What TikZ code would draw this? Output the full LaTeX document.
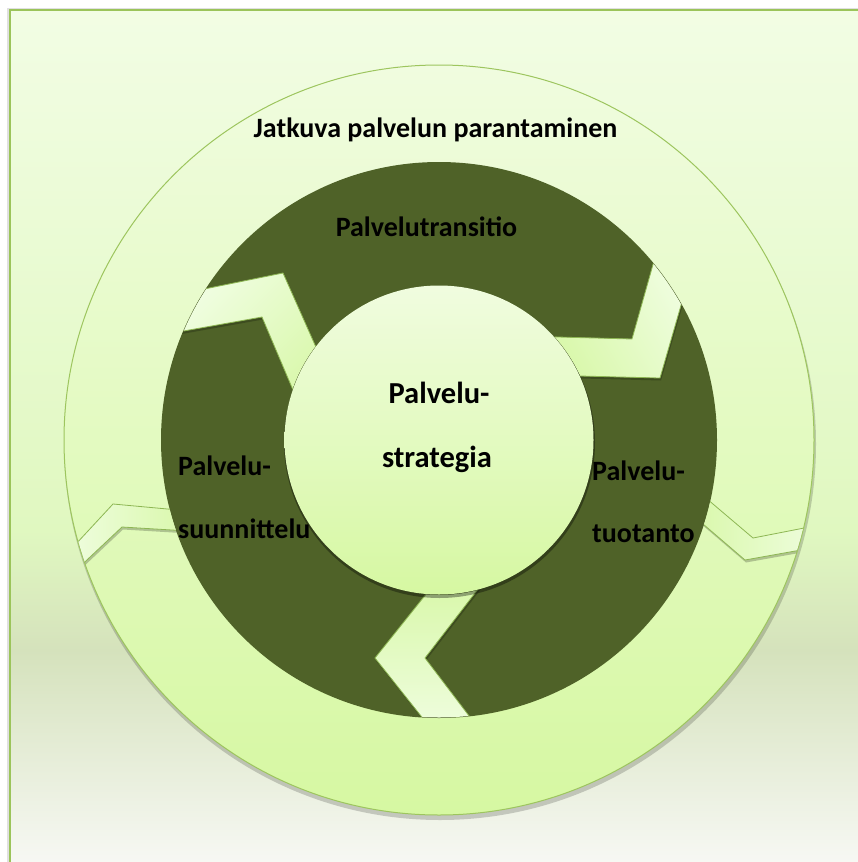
\documentclass[tikz,border=0pt]{standalone}
\usepackage{fontspec}
\usetikzlibrary{calc}
\setmainfont{Carlito}
\definecolor{bgtop}{HTML}{F2FDE4}
\definecolor{bgmid}{HTML}{E0F8C0}
\definecolor{bglow}{HTML}{D5E2BC}
\definecolor{bgbot}{HTML}{F7F8F4}
\definecolor{frame}{HTML}{9BC45A}
\definecolor{ringout}{HTML}{9DC55E}
\definecolor{lighttop}{HTML}{F0FCDF}
\definecolor{lightbot}{HTML}{D6F8A2}
\definecolor{darkring}{HTML}{4F6228}
\definecolor{chevlight}{HTML}{F2FEE6}
\definecolor{chevsat}{HTML}{D6F7A4}
\definecolor{chevedge}{HTML}{8DB653}
\tikzset{
  lbl/.style={font=\bfseries\fontsize{28}{34}\selectfont, text=black, inner sep=0pt},
  biglbl/.style={font=\bfseries\fontsize{30.5}{36}\selectfont, text=black, inner sep=0pt},
  chev/.style={draw=chevedge, line width=0.8pt, line join=miter},
  chevshadow/.style={fill=black, opacity=0.22},
}
\begin{document}
\begin{tikzpicture}[x=1pt,y=-1pt]
\useasboundingbox (0,0) rectangle (858,862);
% background panel
\begin{scope}
\clip (0,0) rectangle (858,862);
\fill[white] (0,0) rectangle (858,862);
\fill[black!12] (7,8) rectangle (858,862);
\shade[top color=bgtop, bottom color=bgmid] (10,10) rectangle (860,531);
\shade[top color=bgmid, bottom color=bglow] (10,530) rectangle (860,651);
\shade[top color=bglow, bottom color=bgbot] (10,650) rectangle (860,864);
\draw[frame, line width=1.6pt] (10,864) -- (10,10) -- (860,10);
\end{scope}
\coordinate (c) at (439,440);
% outer circle with shadow
\fill[black, opacity=0.18] ($(c)+(1,4)$) circle[radius=376pt];
\shade[top color=lighttop, bottom color=lightbot, draw=ringout, line width=1pt]
  (c) circle[radius=375pt];
% dark ring
\fill[darkring] (c) circle[radius=278pt];
% outer ring chevrons
\begin{scope}[even odd rule]
\clip (c) circle[radius=374.5pt] (c) circle[radius=278pt];
\fill[chevshadow] (51,574.5) -- (114,506.5) -- (201,514.5) -- (206,534.5) -- (123,529.5) -- (56,592.5) -- cycle;
\shade[chev, left color=chevlight, right color=chevsat]
  (50,572) -- (113,504) -- (200,512) -- (205,532) -- (122,527) -- (55,590) -- cycle;
\fill[chevshadow] (681,478.5) -- (754,540.5) -- (841,523.5) -- (841,545.5) -- (746,562.5) -- (676,502.5) -- cycle;
\shade[chev, left color=chevsat, right color=chevlight]
  (680,476) -- (753,538) -- (840,521) -- (840,543) -- (745,560) -- (675,500) -- cycle;
\end{scope}
% inner ring chevrons
\begin{scope}[even odd rule]
\clip (c) circle[radius=277.5pt] (c) circle[radius=155pt];
\fill[chevshadow] (171,298.5) -- (284,275.5) -- (336,392.5) -- (311,432.5) -- (263,319.5) -- (151,339.5) -- cycle;
\shade[chev, top color=chevlight, bottom color=chevsat, shading angle=45]
  (170,296) -- (283,273) -- (335,390) -- (310,430) -- (262,317) -- (150,337) -- cycle;
\fill[chevshadow] (521,338.5) -- (633,341.5) -- (666,224.5) -- (698,252.5) -- (661,380.5) -- (541,377.5) -- cycle;
\shade[chev, top color=chevlight, bottom color=chevsat, shading angle=-60]
  (520,336) -- (632,339) -- (665,222) -- (697,250) -- (660,378) -- (540,375) -- cycle;
\fill[chevshadow] (496,569.5) -- (426,660.5) -- (496,752.5) -- (449,752.5) -- (376,660.5) -- (448,570.5) -- cycle;
\shade[chev, top color=chevsat, bottom color=chevlight]
  (495,567) -- (425,658) -- (495,750) -- (448,750) -- (375,658) -- (447,568) -- cycle;
\end{scope}
% inner circle
\fill[black, opacity=0.35] ($(c)+(0.5,2.5)$) circle[radius=155.5pt];
\shade[top color=lighttop, bottom color=lightbot] (c) circle[radius=154.5pt];
% labels
\node[lbl, anchor=base] (csi) at (435.5,137) {Jatkuva palvelun parantaminen};
\node[lbl, anchor=base] (trans) at (426.5,236) {Palvelutransitio};
\node[biglbl, anchor=base] (str1) at (439,403) {Palvelu-};
\node[biglbl, anchor=base] (str2) at (437,467) {strategia};
\node[lbl, anchor=base west] (des1) at (178,475) {Palvelu-};
\node[lbl, anchor=base west] (des2) at (178,538) {suunnittelu};
\node[lbl, anchor=base west] (op1) at (592,480) {Palvelu-};
\node[lbl, anchor=base west] (op2) at (592,542) {tuotanto};
\end{tikzpicture}
\end{document}
